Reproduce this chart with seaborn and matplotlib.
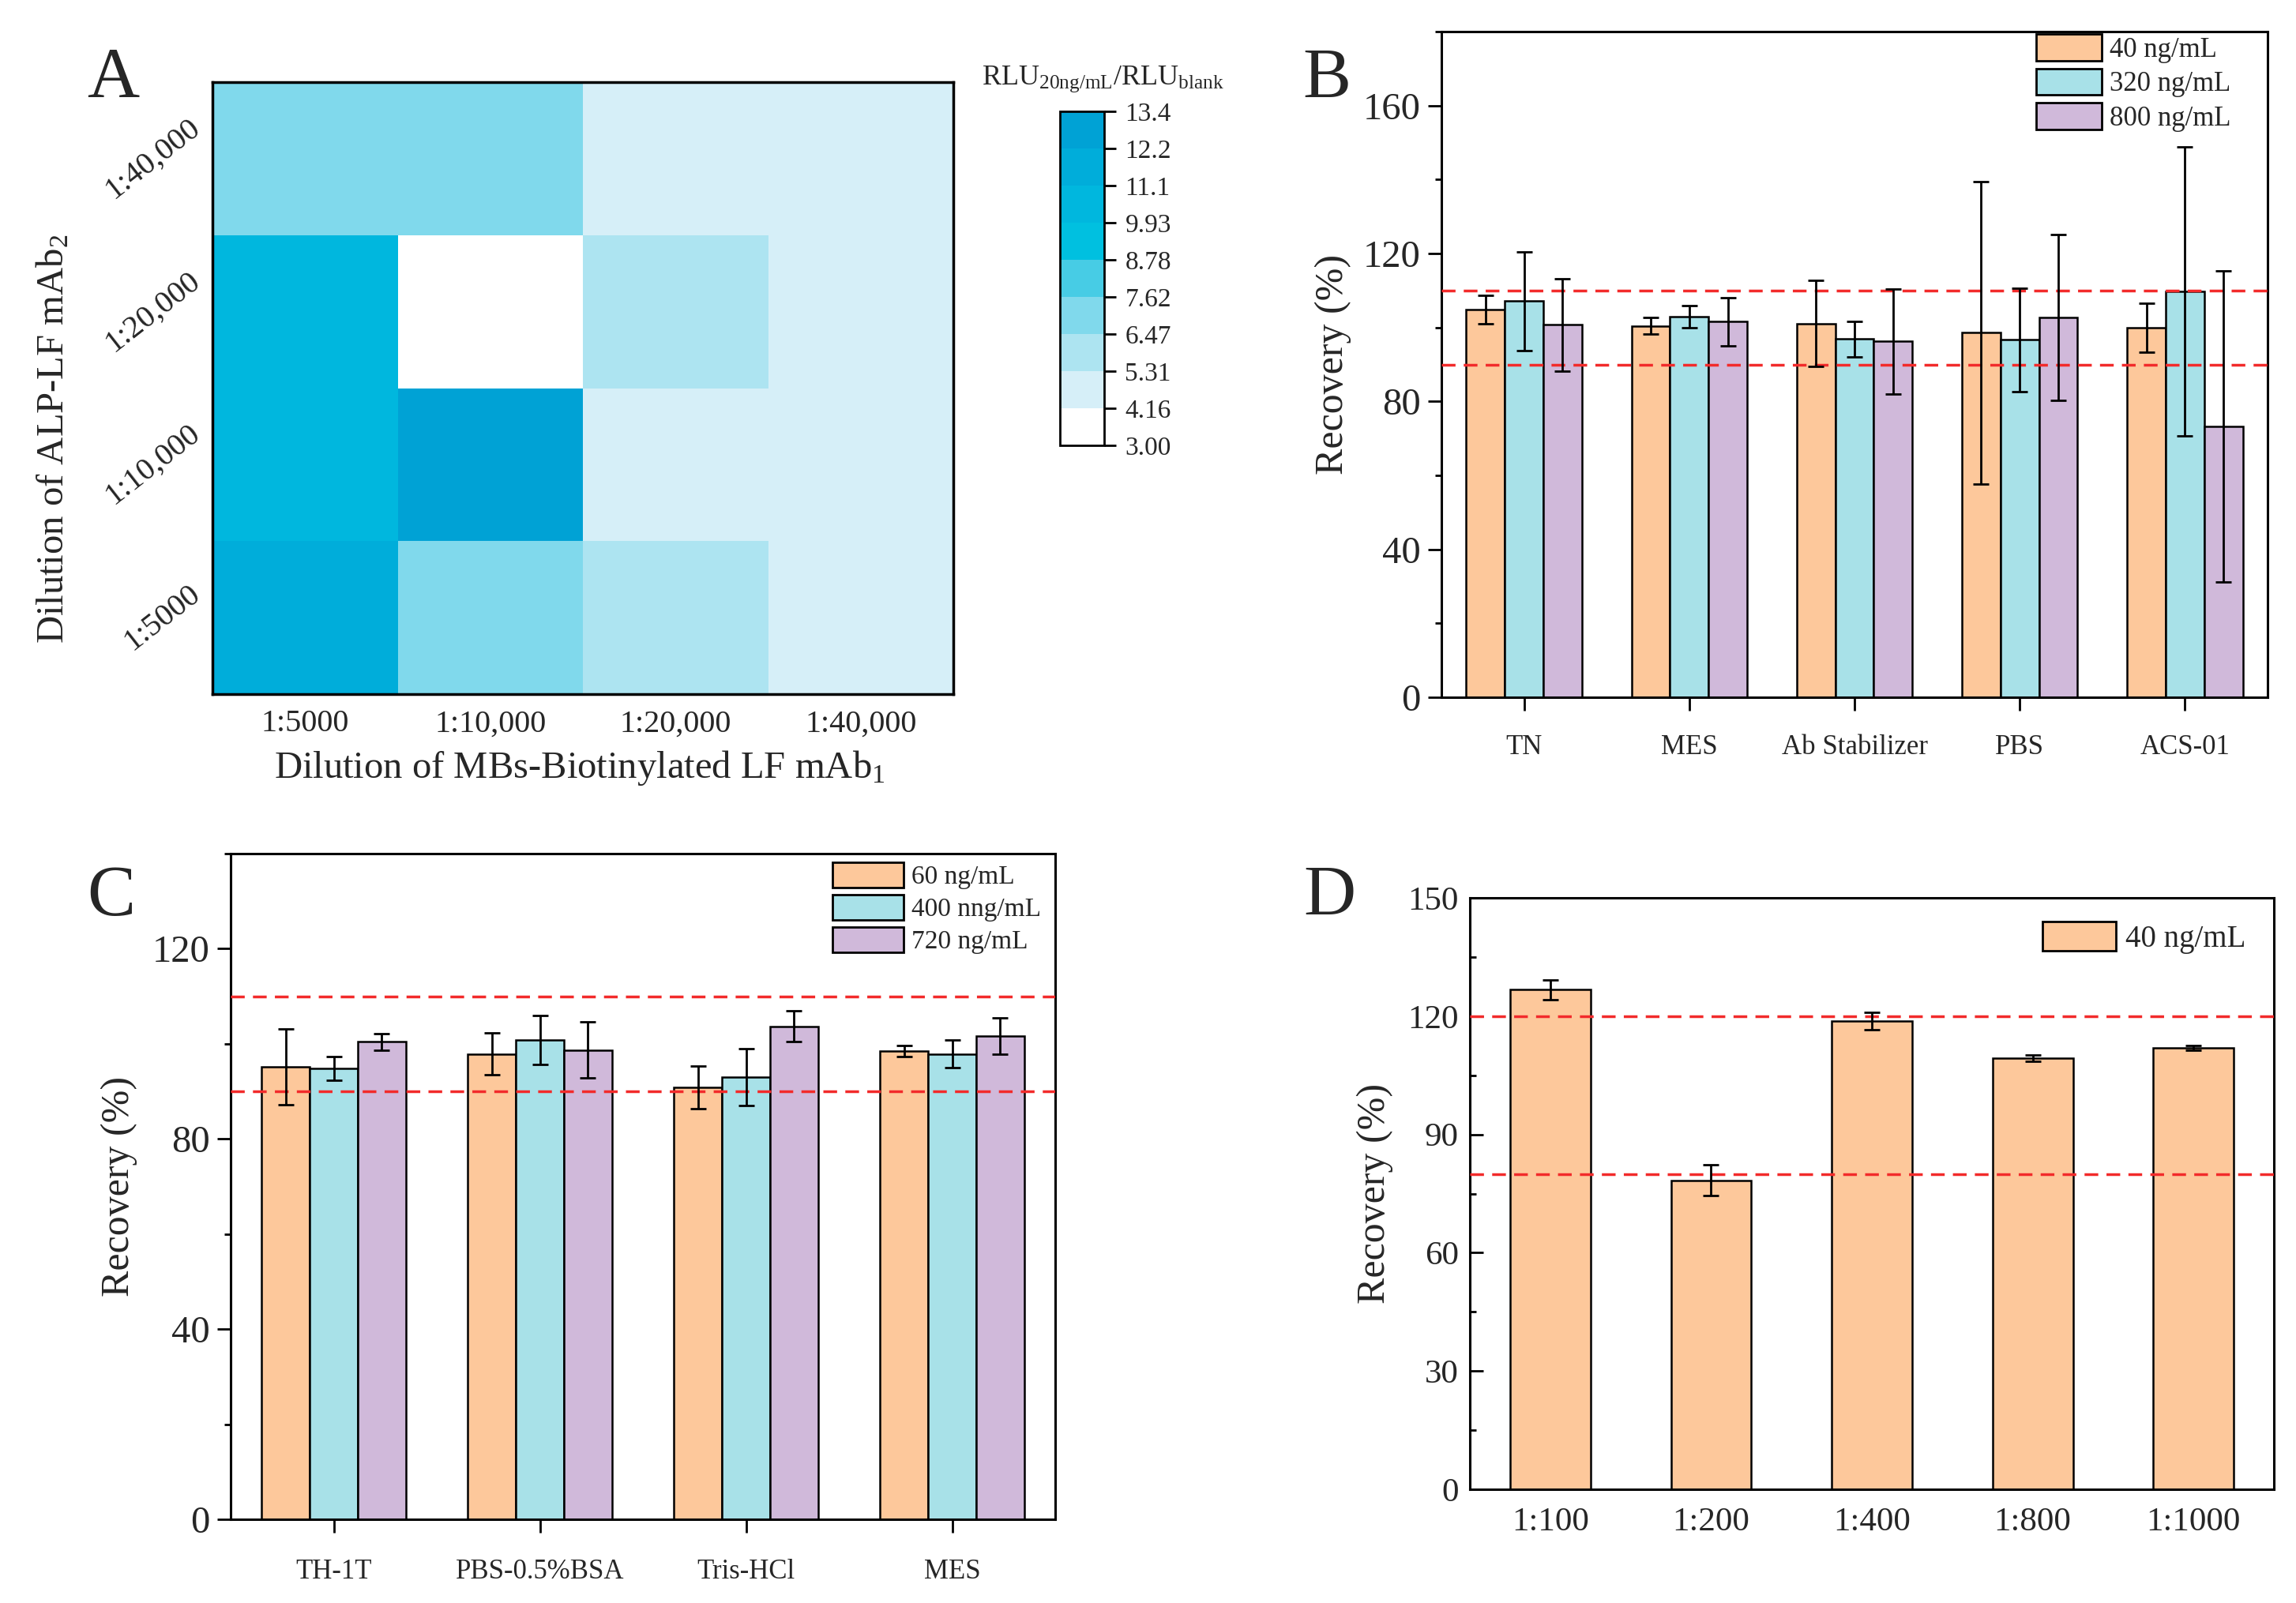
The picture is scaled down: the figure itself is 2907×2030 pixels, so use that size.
import numpy as np
import pandas as pd
import matplotlib
matplotlib.use("Agg")
import matplotlib.pyplot as plt
import matplotlib.patches as mpatches
from matplotlib.colors import ListedColormap, BoundaryNorm
from matplotlib.ticker import MultipleLocator
import seaborn as sns

sns.set_theme(style="white")
plt.rcParams["font.family"] = ["Liberation Serif", "DejaVu Serif"]
plt.rcParams["mathtext.fontset"] = "custom"
plt.rcParams["mathtext.rm"] = "Liberation Serif"
plt.rcParams["mathtext.it"] = "Liberation Serif:italic"
plt.rcParams["mathtext.bf"] = "Liberation Serif:bold"

# ---------------- data ----------------
heat_rows = ["1:40,000", "1:20,000", "1:10,000", "1:5000"]
heat_cols = ["1:5000", "1:10,000", "1:20,000", "1:40,000"]
heat_row_40000 = [7.0, 7.0, 4.7, 4.7]
heat_row_20000 = [10.2, 3.5, 5.9, 4.7]
heat_row_10000 = [10.3, 12.8, 4.7, 4.7]
heat_row_5000 = [11.5, 7.0, 5.9, 4.7]
cbar_bounds = [3.00, 4.16, 5.31, 6.47, 7.62, 8.78, 9.93, 11.1, 12.2, 13.4]
cbar_labels = ["3.00", "4.16", "5.31", "6.47", "7.62", "8.78", "9.93", "11.1", "12.2", "13.4"]
cbar_colors = ["#FFFFFF", "#D6EFF8", "#ADE4F1", "#80D9EC", "#47CCE5",
               "#00C0E0", "#00B7DE", "#00ADDA", "#00A2D5"]

b_categories = ["TN", "MES", "Ab Stabilizer", "PBS", "ACS-01"]
b_series = ["40 ng/mL", "320 ng/mL", "800 ng/mL"]
b_40 = [104.8, 100.4, 101.1, 98.6, 100.0]
b_40_err = [3.8, 2.2, 11.6, 40.9, 6.6]
b_320 = [107.1, 102.9, 96.9, 96.7, 109.7]
b_320_err = [13.3, 3.0, 4.8, 14.0, 39.1]
b_800 = [100.7, 101.6, 96.2, 102.7, 73.2]
b_800_err = [12.5, 6.5, 14.2, 22.5, 42.0]

c_categories = ["TH-1T", "PBS-0.5%BSA", "Tris-HCl", "MES"]
c_series = ["60 ng/mL", "400 nng/mL", "720 ng/mL"]
c_60 = [95.2, 97.9, 90.9, 98.5]
c_60_err = [8.0, 4.4, 4.5, 1.2]
c_400 = [94.8, 100.8, 93.0, 97.9]
c_400_err = [2.5, 5.2, 6.0, 2.9]
c_720 = [100.4, 98.7, 103.7, 101.6]
c_720_err = [1.7, 5.9, 3.3, 3.8]

d_categories = ["1:100", "1:200", "1:400", "1:800", "1:1000"]
d_series = ["40 ng/mL"]
d_values = [126.7, 78.4, 118.7, 109.3, 112.0]
d_err = [2.5, 4.0, 2.2, 0.75, 0.6]

b_limits = [90, 110]
c_limits = [90, 110]
d_limits = [80, 120]

bar_colors = ["#FDC89B", "#A8E1E8", "#D0B9DA"]
red = "#F22B2B"

# ---------------- figure ----------------
W, H = 2907, 2030
fig = plt.figure(figsize=(W / 100, H / 100), dpi=100)
fig.patch.set_facecolor("white")


def fr(x0, y0, x1, y1):
    return [x0 / W, 1 - y1 / H, (x1 - x0) / W, (y1 - y0) / H]


axA = fig.add_axes(fr(269, 104, 1207, 879))
cax = fig.add_axes(fr(1342, 141, 1398, 564))
axB = fig.add_axes(fr(1825, 40, 2871, 883))
axC = fig.add_axes(fr(292, 1081, 1336, 1924))
axD = fig.add_axes(fr(1861, 1137, 2879, 1886))

# ---------------- panel A: heatmap ----------------
heat_df = pd.DataFrame([heat_row_40000, heat_row_20000, heat_row_10000, heat_row_5000],
                       index=heat_rows, columns=heat_cols)
cmap = ListedColormap(cbar_colors)
norm = BoundaryNorm(cbar_bounds, cmap.N)
sns.heatmap(heat_df, ax=axA, cmap=cmap, norm=norm, cbar_ax=cax, linewidths=0,
            cbar_kws={"ticks": cbar_bounds, "spacing": "uniform"})
for s in axA.spines.values():
    s.set_visible(True)
    s.set_color("black")
    s.set_linewidth(2.5)
axA.tick_params(axis="both", length=0)
axA.tick_params(axis="x", pad=14, labelsize=29)
axA.tick_params(axis="y", pad=6, labelsize=29)
axA.set_xticklabels(heat_cols, rotation=0)
axA.set_yticklabels(heat_rows, rotation=38, ha="right", va="center")
axA.set_xlabel("Dilution of MBs-Biotinylated LF mAb$_1$", fontsize=35, va="center")
axA.xaxis.set_label_coords(0.496, -0.121)
axA.set_ylabel("Dilution of ALP-LF mAb$_2$", fontsize=35, va="center")
axA.yaxis.set_label_coords(-0.215, 0.417)

cbar = axA.collections[0].colorbar
cbar.set_ticks(cbar_bounds)
cbar.set_ticklabels(cbar_labels)
cbar.ax.tick_params(labelsize=24, length=11, width=2, direction="out", pad=8, color="black")
cbar.outline.set_linewidth(2)
cbar.outline.set_edgecolor("black")
fig.text(1396 / W, 1 - 100 / H,
         r"$\mathrm{RLU}_{\mathrm{20ng/mL}}/\mathrm{RLU}_{\mathrm{blank}}$",
         fontsize=26, ha="center", va="center")


# ---------------- bar helpers ----------------
def style_axis(ax, ymax, major, minor, ydir="out", xticks=True):
    for s in ax.spines.values():
        s.set_visible(True)
        s.set_color("black")
        s.set_linewidth(2.2)
    ax.set_ylim(0, ymax)
    ax.yaxis.set_major_locator(MultipleLocator(major))
    ax.yaxis.set_minor_locator(MultipleLocator(minor))
    ax.tick_params(axis="y", which="major", direction=ydir, length=12, width=2,
                   left=True, right=False, color="black")
    ax.tick_params(axis="y", which="minor", direction=ydir, length=6, width=2,
                   left=True, right=False, color="black")
    ax.tick_params(axis="x", which="major", direction="out",
                   length=12 if xticks else 0, width=2, bottom=True, top=False, color="black")
    ax.set_xlabel("")
    ax.grid(False)


def grouped(ax, cats, series, vals, errs, width):
    rows = []
    for s, v in zip(series, vals):
        for c, val in zip(cats, v):
            rows.append({"cat": c, "series": s, "value": val})
    df = pd.DataFrame(rows)
    sns.barplot(data=df, x="cat", y="value", hue="series", order=cats, hue_order=series,
                palette=bar_colors[:len(series)], width=width, saturation=1,
                edgecolor="black", linewidth=1.8, errorbar=None, legend=False, ax=ax)
    for cont, err in zip(ax.containers, errs):
        xs = [p.get_x() + p.get_width() / 2 for p in cont]
        hs = [p.get_height() for p in cont]
        ax.errorbar(xs, hs, yerr=err, fmt="none", ecolor="black", elinewidth=2,
                    capsize=7, capthick=2, zorder=5)


def legend(ax, series, fs, anchor, hl=2.4):
    handles = [mpatches.Patch(facecolor=bar_colors[i], edgecolor="black", linewidth=2)
               for i in range(len(series))]
    ax.legend(handles, series, loc="upper right", bbox_to_anchor=anchor, frameon=False,
              fontsize=fs, handlelength=hl, handleheight=1.1, labelspacing=0.2,
              handletextpad=0.3, borderaxespad=0, borderpad=0)


def limits(ax, lims):
    for v in lims:
        ax.axhline(v, color=red, lw=2.5, ls=(0, (5, 3)), zorder=4)


# ---------------- panel B ----------------
grouped(axB, b_categories, b_series, [b_40, b_320, b_800], [b_40_err, b_320_err, b_800_err], 0.7)
limits(axB, b_limits)
style_axis(axB, 180, 40, 20)
axB.set_xlim(-0.5, len(b_categories) - 0.5)
axB.tick_params(axis="y", labelsize=35, pad=7)
axB.tick_params(axis="x", labelsize=25, pad=22)
axB.set_ylabel("Recovery (%)", fontsize=36, va="center")
axB.yaxis.set_label_coords(-0.131, 0.5)
legend(axB, b_series, 25, (0.956, 0.996))

# ---------------- panel C ----------------
grouped(axC, c_categories, c_series, [c_60, c_400, c_720], [c_60_err, c_400_err, c_720_err], 0.7)
limits(axC, c_limits)
style_axis(axC, 140, 40, 20)
axC.set_xlim(-0.5, len(c_categories) - 0.5)
axC.tick_params(axis="y", labelsize=35, pad=7)
axC.tick_params(axis="x", labelsize=25, pad=24)
axC.set_ylabel("Recovery (%)", fontsize=36, va="center")
axC.yaxis.set_label_coords(-0.135, 0.5)
legend(axC, c_series, 24, (0.983, 0.987), hl=2.7)

# ---------------- panel D ----------------
sns.barplot(x=d_categories, y=d_values, color=bar_colors[0], width=0.5, saturation=1,
            edgecolor="black", linewidth=1.8, errorbar=None, ax=axD)
cont = axD.containers[0]
axD.errorbar([p.get_x() + p.get_width() / 2 for p in cont], [p.get_height() for p in cont],
             yerr=d_err, fmt="none", ecolor="black", elinewidth=2, capsize=7, capthick=2, zorder=5)
limits(axD, d_limits)
style_axis(axD, 150, 30, 15, ydir="in", xticks=False)
axD.set_xlim(-0.5, len(d_categories) - 0.5)
axD.tick_params(axis="y", labelsize=31, pad=10)
axD.tick_params(axis="x", labelsize=31, pad=16)
axD.set_ylabel("Recovery (%)", fontsize=36, va="center")
axD.yaxis.set_label_coords(-0.118, 0.5)
legend(axD, d_series, 28, (0.965, 0.96))

# ---------------- panel letters ----------------
for letter, x, y in [("A", 143, 123), ("B", 1680, 124), ("C", 141, 1159), ("D", 1683, 1159)]:
    fig.text(x / W, 1 - y / H, letter, fontsize=66, ha="center", va="baseline")

fig.savefig("out.png", dpi=100, facecolor="white")
